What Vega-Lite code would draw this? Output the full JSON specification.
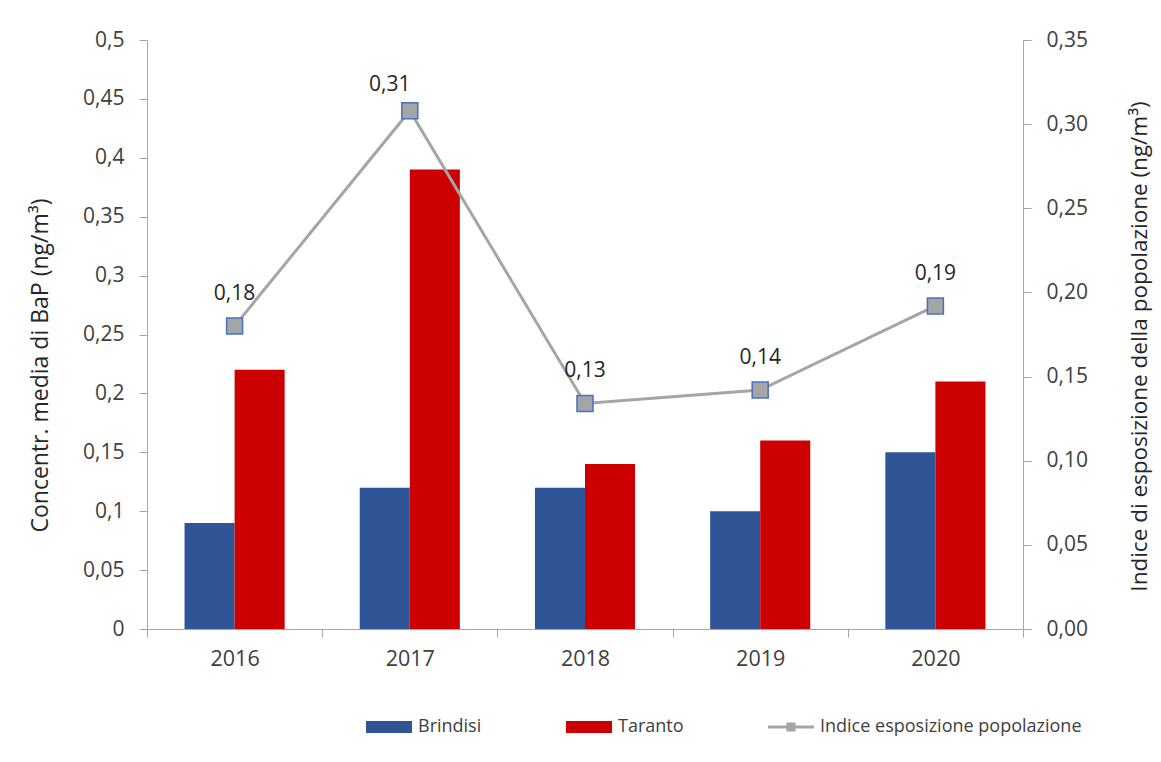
{
  "$schema": "https://vega.github.io/schema/vega-lite/v6.json",
  "width": 876,
  "height": 589,
  "autosize": {"type": "none"},
  "padding": {"left": 147, "top": 40, "right": 138, "bottom": 133},
  "background": "white",
  "config": {
    "locale": {"number": {"decimal": ",", "thousands": ".", "grouping": [3], "currency": ["€", ""]}},
    "font": "Open Sans",
    "view": {"stroke": null},
    "axis": {
      "grid": false,
      "domainColor": "#a6a6a6",
      "tickColor": "#a6a6a6",
      "labelColor": "#404040",
      "titleColor": "#262626",
      "labelFontSize": 21,
      "titleFontSize": 23,
      "titleFontWeight": "normal",
      "labelFont": "Open Sans",
      "titleFont": "Open Sans"
    },
    "legend": {
      "orient": "none",
      "legendX": 219,
      "legendY": 664,
      "direction": "horizontal",
      "gridAlign": "none",
      "columnPadding": 84,
      "symbolSize": 2116,
      "labelFontSize": 18,
      "labelColor": "#404040",
      "labelFont": "Open Sans",
      "labelOffset": 6,
      "labelLimit": 0,
      "symbolStrokeWidth": 0
    }
  },
  "datasets": {
    "bars": [
      {"year": "2016", "serie": "Brindisi", "value": 0.09},
      {"year": "2016", "serie": "Taranto", "value": 0.22},
      {"year": "2017", "serie": "Brindisi", "value": 0.12},
      {"year": "2017", "serie": "Taranto", "value": 0.39},
      {"year": "2018", "serie": "Brindisi", "value": 0.12},
      {"year": "2018", "serie": "Taranto", "value": 0.14},
      {"year": "2019", "serie": "Brindisi", "value": 0.10},
      {"year": "2019", "serie": "Taranto", "value": 0.16},
      {"year": "2020", "serie": "Brindisi", "value": 0.15},
      {"year": "2020", "serie": "Taranto", "value": 0.21}
    ],
    "line": [
      {"year": "2016", "serie": "Indice esposizione popolazione", "indice": 0.180},
      {"year": "2017", "serie": "Indice esposizione popolazione", "indice": 0.308},
      {"year": "2018", "serie": "Indice esposizione popolazione", "indice": 0.134},
      {"year": "2019", "serie": "Indice esposizione popolazione", "indice": 0.142},
      {"year": "2020", "serie": "Indice esposizione popolazione", "indice": 0.192}
    ]
  },
  "layer": [
    {
      "data": {"name": "bars"},
      "mark": {"type": "bar"},
      "encoding": {
        "x": {
          "field": "year",
          "type": "nominal",
          "scale": {"paddingInner": 0, "paddingOuter": 0},
          "axis": {"title": null, "labelAngle": 0, "tickBand": "extent", "tickSize": 8, "labelPadding": 11, "labelFontSize": 21.5}
        },
        "xOffset": {
          "field": "serie",
          "type": "nominal",
          "sort": ["Brindisi", "Taranto"],
          "scale": {"paddingInner": 0, "paddingOuter": 0.75}
        },
        "y": {
          "field": "value",
          "type": "quantitative",
          "scale": {"domain": [0, 0.5]},
          "axis": {
            "title": "Concentr. media di BaP (ng/m³)",
            "values": [0, 0.05, 0.1, 0.15, 0.2, 0.25, 0.3, 0.35, 0.4, 0.45, 0.5],
            "format": ".2~f",
            "tickSize": 8,
            "labelPadding": 15,
            "titlePadding": 30,
            "titleY": 325
          }
        },
        "color": {
          "field": "serie",
          "type": "nominal",
          "scale": {
            "domain": ["Brindisi", "Taranto", "Indice esposizione popolazione"],
            "range": ["#2f5597", "#cc0000", "#a5a5a5"]
          },
          "legend": {"title": null}
        }
      }
    },
    {
      "data": {"name": "line"},
      "encoding": {
        "x": {"field": "year", "type": "nominal"},
        "y": {
          "field": "indice",
          "type": "quantitative",
          "scale": {"domain": [0, 0.35]},
          "axis": {
            "orient": "right",
            "title": "Indice di esposizione della popolazione (ng/m³)",
            "values": [0, 0.05, 0.1, 0.15, 0.2, 0.25, 0.3, 0.35],
            "format": ".2f",
            "tickSize": 8,
            "labelPadding": 15,
            "titlePadding": 41,
            "titleFontSize": 22.5,
            "titleAngle": 270,
            "titleBaseline": "top",
            "titleY": 306
          }
        }
      },
      "layer": [
        {"mark": {"type": "line", "color": "#a5a5a5", "strokeWidth": 3}},
        {"mark": {"type": "point", "shape": "square", "size": 256, "filled": true, "fill": "#a5a5a5", "stroke": "#4472c4", "strokeWidth": 1.5, "opacity": 1}},
        {
          "transform": [{"filter": "datum.year != '2017'"}],
          "mark": {"type": "text", "fontSize": 21, "color": "#262626", "baseline": "alphabetic", "dy": -26},
          "encoding": {"text": {"field": "indice", "type": "quantitative", "format": ".2f"}}
        },
        {
          "transform": [{"filter": "datum.year == '2017'"}],
          "mark": {"type": "text", "fontSize": 21, "color": "#262626", "baseline": "alphabetic", "dy": -20, "dx": -20},
          "encoding": {"text": {"field": "indice", "type": "quantitative", "format": ".2f"}}
        },
        {
          "transform": [{"filter": "false"}],
          "mark": {"type": "point", "filled": true, "opacity": 1},
          "encoding": {
            "color": {"field": "serie", "type": "nominal", "legend": {"title": null}},
            "shape": {
              "field": "serie",
              "type": "nominal",
              "scale": {
                "domain": ["Brindisi", "Taranto", "Indice esposizione popolazione"],
                "range": [
                  "M-1,-0.26H1V0.26H-1Z",
                  "M-1,-0.26H1V0.26H-1Z",
                  "M-1,-0.065H1V0.065H-1Z M-0.2,-0.2H0.2V0.2H-0.2Z"
                ]
              },
              "legend": {"title": null}
            }
          }
        }
      ]
    }
  ],
  "resolve": {"scale": {"y": "independent"}}
}
